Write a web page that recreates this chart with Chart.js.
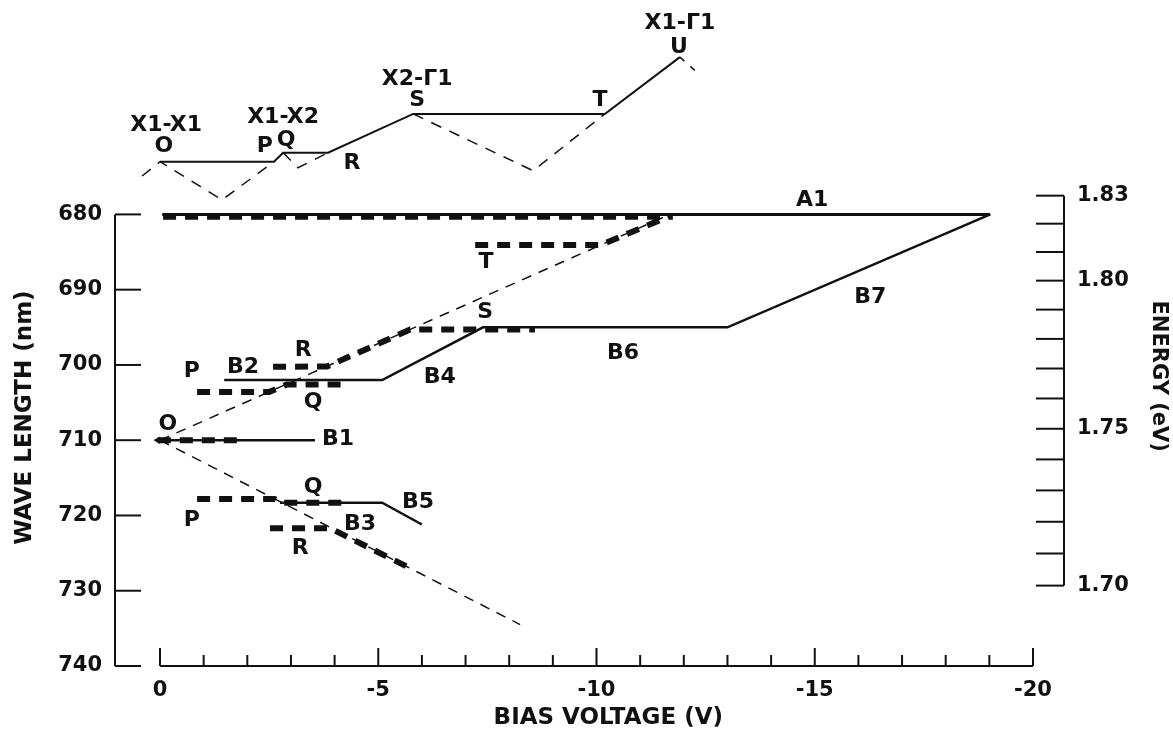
<!DOCTYPE html>
<html>
<head>
<meta charset="utf-8">
<script src="https://cdn.jsdelivr.net/npm/chart.js@4.4.1/dist/chart.umd.min.js"></script>
<style>
  html, body { margin: 0; padding: 0; background: #fff; }
  #wrap { width: 1173px; height: 731px; }
</style>
</head>
<body>
<div id="wrap"><canvas id="chart"></canvas></div>
<script>
// axis ticks
const voltTicks = [0, -1, -2, -3, -4, -5, -6, -7, -8, -9, -10, -11, -12, -13, -14, -15, -16, -17, -18, -19, -20];
const waveTicks = [680, 690, 700, 710, 720, 730, 740];
const energyTicks = [1.70, 1.71, 1.72, 1.73, 1.74, 1.75, 1.76, 1.77, 1.78, 1.79, 1.80, 1.81, 1.82, 1.83];
const energyShown = [1.70, 1.75, 1.80, 1.83];

// upper schematic, [bias V, wavelength nm]
const topSolid = [[0, 673.0], [-2.61, 673.0], [-2.82, 671.8], [-3.85, 671.8], [-5.80, 666.65], [-10.19, 666.65], [-11.91, 659.1]];
const topDashO = [[0.41, 674.9], [0, 673.0], [-1.42, 678.07], [-2.61, 673.0]];
const topDashQ = [[-2.82, 671.8], [-3.16, 673.8], [-3.85, 671.8]];
const topDashS = [[-5.80, 666.65], [-8.55, 674.2], [-10.19, 666.65]];
const topDashU = [[-11.91, 659.1], [-12.26, 660.9]];

// solid branches
const lineA1 = [[-0.05, 680], [-19.02, 680]];
const lineB7B6B4B2 = [[-19.02, 680], [-13.0, 695], [-7.40, 695], [-5.09, 702], [-1.47, 702]];
const lineB1 = [[0.05, 710], [-3.55, 710]];
const lineB5 = [[-2.75, 718.3], [-5.09, 718.3], [-6.0, 721.2]];

// thin dashed guides from O
const guideUp = [[0, 710], [-11.68, 680]];
const guideDown = [[0, 710], [-8.25, 734.5]];

// thick dashed branches
const dashA1 = [[-0.07, 680.3], [-11.75, 680.3]];
const dashT = [[-7.22, 684.05], [-10.1, 684.05], [-11.68, 680.2]];
const dashRS = [[-2.59, 700.25], [-3.83, 700.2], [-5.73, 695.3], [-8.59, 695.3]];
const dashPQup = [[-0.85, 703.6], [-2.5, 703.6], [-2.91, 702.6], [-4.19, 702.6]];
const dashB1 = [[0.05, 710], [-1.79, 710]];
const dashPQlow = [[-0.85, 717.8], [-2.62, 717.8], [-2.8, 718.3], [-4.19, 718.3]];
const dashR = [[-2.52, 721.7], [-3.9, 721.7], [-5.66, 726.8]];

// text labels [text, V, nm]
const labels = [
    ['X1-X1', -0.14, 668.1], ['O', -0.09, 671.0], ['X1-X2', -2.82, 667.05], ['P', -2.40, 671.0],
    ['Q', -2.89, 670.2], ['R', -4.40, 673.2], ['X2-\u03931', -5.89, 662.1], ['S', -5.89, 664.8],
    ['T', -10.08, 664.8], ['X1-\u03931', -11.91, 654.6], ['U', -11.89, 657.8],
    ['A1', -14.94, 678.1], ['T', -7.47, 686.4], ['B7', -16.27, 691.0], ['S', -7.45, 693.0],
    ['B6', -10.61, 698.4], ['R', -3.28, 698.0], ['B2', -1.90, 700.25], ['P', -0.73, 700.9],
    ['B4', -6.41, 701.6], ['Q', -3.51, 705.0], ['O', -0.18, 707.9], ['B1', -4.08, 709.9],
    ['Q', -3.51, 716.3], ['B5', -5.91, 718.2], ['P', -0.73, 720.6], ['B3', -4.58, 721.2],
    ['R', -3.21, 724.3]
];

const ink = '#111';
const fontFamily = "'DejaVu Sans', 'Liberation Sans', sans-serif";
const toXY = a => a.map(p => ({ x: p[0], y: p[1] }));

function solid(data, w) {
    return { data: toXY(data), borderColor: ink, borderWidth: w, pointRadius: 0, tension: 0, fill: false };
}
function dashed(data, w, dash) {
    return { data: toXY(data), borderColor: ink, borderWidth: w, borderDash: dash, pointRadius: 0, tension: 0, fill: false };
}

// B1 thick dashes end in a small arrow at O
const arrowB1 = dashed(dashB1, 6, [13, 9]);
arrowB1.pointStyle = 'triangle';
arrowB1.pointRotation = -90;
arrowB1.pointRadius = ctx => ctx.dataIndex === 0 ? 3.5 : 0;
arrowB1.pointBorderWidth = 1;
arrowB1.pointBackgroundColor = ink;
arrowB1.pointBorderColor = ink;

// axis lines with inward ticks
const axesPlugin = {
    id: 'axesPlugin',
    afterDatasetsDraw(chart) {
        const { ctx, chartArea, scales: { x, y, yE } } = chart;
        ctx.save();
        ctx.strokeStyle = ink;
        ctx.lineWidth = 2;
        const seg = (x1, y1, x2, y2) => { ctx.beginPath(); ctx.moveTo(x1, y1); ctx.lineTo(x2, y2); ctx.stroke(); };

        const xl = chartArea.left + 1;
        seg(xl, y.getPixelForValue(680), xl, y.getPixelForValue(740));
        waveTicks.forEach(v => { const p = y.getPixelForValue(v); seg(xl, p, xl + 26, p); });

        const xr = chartArea.right - 1;
        const eTop = yE.getPixelForValue(1239.84 / 1.83), eBot = yE.getPixelForValue(1239.84 / 1.70);
        seg(xr, eTop, xr, eBot);
        energyTicks.forEach(e => { const p = yE.getPixelForValue(1239.84 / e); seg(xr - 28, p, xr, p); });

        const yb = chartArea.bottom;
        seg(x.getPixelForValue(0), yb, x.getPixelForValue(-20), yb);
        voltTicks.forEach(v => {
            const p = x.getPixelForValue(v);
            seg(p, yb, p, yb - (v % 5 === 0 ? 18 : 11));
        });
        ctx.restore();
    }
};

// letters on the plot and axis titles
const textPlugin = {
    id: 'textPlugin',
    afterDraw(chart) {
        const { ctx, chartArea, scales: { x, y } } = chart;
        ctx.save();
        ctx.fillStyle = ink;
        ctx.textAlign = 'center';
        ctx.textBaseline = 'middle';
        ctx.font = 'bold 22px ' + fontFamily;
        labels.forEach(l => ctx.fillText(l[0], x.getPixelForValue(l[1]), y.getPixelForValue(l[2])));

        ctx.font = 'bold 23px ' + fontFamily;
        ctx.fillText('BIAS VOLTAGE (V)', x.getPixelForValue(-10.27), chartArea.bottom + 52);

        ctx.save();
        ctx.translate(25, y.getPixelForValue(707));
        ctx.rotate(-Math.PI / 2);
        ctx.fillText('WAVE LENGTH (nm)', 0, 0);
        ctx.restore();

        ctx.save();
        ctx.font = 'bold 21px ' + fontFamily;
        ctx.translate(1158, y.getPixelForValue(701.5));
        ctx.rotate(Math.PI / 2);
        ctx.fillText('ENERGY (eV)', 0, 0);
        ctx.restore();
        ctx.restore();
    }
};

const tickFont = { family: fontFamily, size: 21, weight: 'bold' };

new Chart(document.getElementById('chart'), {
    type: 'line',
    data: {
        datasets: [
            solid(topSolid, 2),
            dashed(topDashO, 1.5, [11, 9]),
            dashed(topDashQ, 1.5, [11, 9]),
            dashed(topDashS, 1.5, [11, 9]),
            dashed(topDashU, 1.5, [6, 8]),
            dashed(guideUp, 1.5, [10, 8]),
            dashed(guideDown, 1.5, [10, 8]),
            solid(lineA1, 3),
            solid(lineB7B6B4B2, 2.5),
            solid(lineB1, 2.5),
            solid(lineB5, 2.5),
            dashed(dashA1, 6, [13, 9]),
            dashed(dashT, 6, [13, 9]),
            dashed(dashRS, 6, [13, 9]),
            dashed(dashPQup, 6, [13, 9]),
            arrowB1,
            dashed(dashPQlow, 6, [13, 9]),
            dashed(dashR, 6, [13, 9])
        ]
    },
    options: {
        responsive: true,
        maintainAspectRatio: false,
        animation: false,
        layout: { padding: { top: 26.25, left: 0, right: 0, bottom: 0 } },
        plugins: { legend: { display: false }, tooltip: { enabled: false } },
        scales: {
            x: {
                type: 'linear',
                reverse: true,
                min: -20.733,
                max: 1.054,
                afterBuildTicks: s => { s.ticks = voltTicks.map(v => ({ value: v })); },
                afterFit: s => { s.height = 65; },
                grid: { display: false, drawTicks: false },
                border: { display: false },
                ticks: {
                    autoSkip: false, maxRotation: 0, minRotation: 0, padding: 12,
                    color: ink, font: tickFont,
                    callback: v => (v % 5 === 0 ? String(v) : '')
                }
            },
            y: {
                type: 'linear',
                position: 'left',
                reverse: true,
                min: 655,
                max: 740,
                afterBuildTicks: s => { s.ticks = waveTicks.map(v => ({ value: v })); },
                afterFit: s => { s.width = 114; },
                grid: { display: false, drawTicks: false },
                border: { display: false },
                ticks: { autoSkip: false, padding: 12, color: ink, font: tickFont, callback: v => String(v) }
            },
            yE: {
                type: 'linear',
                position: 'right',
                reverse: true,
                min: 655,
                max: 740,
                afterBuildTicks: s => { s.ticks = energyTicks.map(e => ({ value: 1239.84 / e })); },
                afterFit: s => { s.width = 108; },
                grid: { display: false, drawTicks: false },
                border: { display: false },
                ticks: {
                    autoSkip: false, padding: 12, color: ink, font: tickFont,
                    callback: (v, i) => (energyShown.includes(energyTicks[i]) ? energyTicks[i].toFixed(2) : '')
                }
            }
        }
    },
    plugins: [axesPlugin, textPlugin]
});
</script>
</body>
</html>
